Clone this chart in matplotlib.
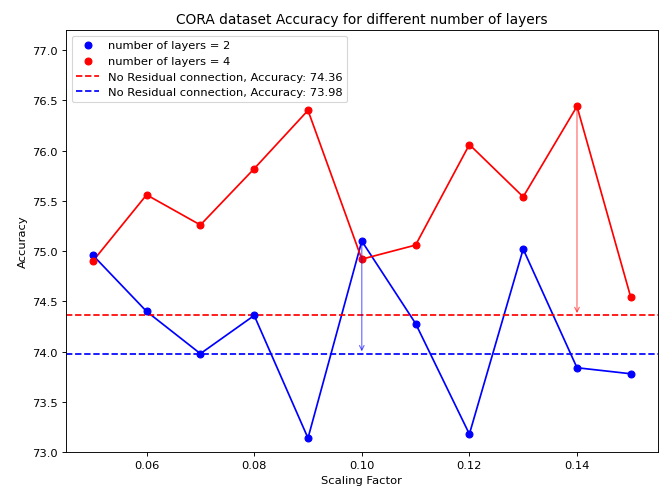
import numpy as np
import matplotlib
matplotlib.use('Agg')
import matplotlib.pyplot as plt

# Scaling factors and accuracies
scaling = [0.05, 0.06, 0.07, 0.08, 0.09, 0.10, 0.11, 0.12, 0.13, 0.14, 0.15]
acc_2 = [74.96, 74.40, 73.98, 74.36, 73.14, 75.10, 74.28, 73.18, 75.02, 73.84, 73.78]
acc_4 = [74.90, 75.56, 75.26, 75.82, 76.40, 74.92, 75.06, 76.06, 75.54, 76.44, 74.54]
base_4 = 74.36
base_2 = 73.98

dpi = 82.4
fig = plt.figure(figsize=(659 / dpi, 491 / dpi), dpi=dpi)
ax = fig.add_axes([0.100, 0.077, 0.898, 0.860])

ax.plot(scaling, acc_2, color='blue')
ax.plot(scaling, acc_4, color='red')
ax.scatter(scaling, acc_2, color='blue', zorder=3, label='number of layers = 2')
ax.scatter(scaling, acc_4, color='red', zorder=3, label='number of layers = 4')
ax.axhline(base_4, color='red', linestyle='--', label=f'No Residual connection, Accuracy: {base_4}')
ax.axhline(base_2, color='blue', linestyle='--', label=f'No Residual connection, Accuracy: {base_2}')

# Arrows from best point down to baseline
i2 = int(np.argmax(acc_2))
i4 = int(np.argmax(acc_4))
ax.annotate('', xy=(scaling[i2], base_2), xytext=(scaling[i2], acc_2[i2]),
            arrowprops=dict(arrowstyle='->', color='blue', alpha=0.6))
ax.annotate('', xy=(scaling[i4], base_4), xytext=(scaling[i4], acc_4[i4]),
            arrowprops=dict(arrowstyle='->', color='red', alpha=0.6))

ax.set_xlim(0.045, 0.155)
ax.set_ylim(73.0, 77.2)
ax.set_xticks([0.06, 0.08, 0.10, 0.12, 0.14])
ax.set_xlabel('Scaling Factor')
ax.set_ylabel('Accuracy')
ax.set_title('CORA dataset Accuracy for different number of layers')
ax.legend(loc='upper left')

fig.savefig('out.png', dpi=dpi)
